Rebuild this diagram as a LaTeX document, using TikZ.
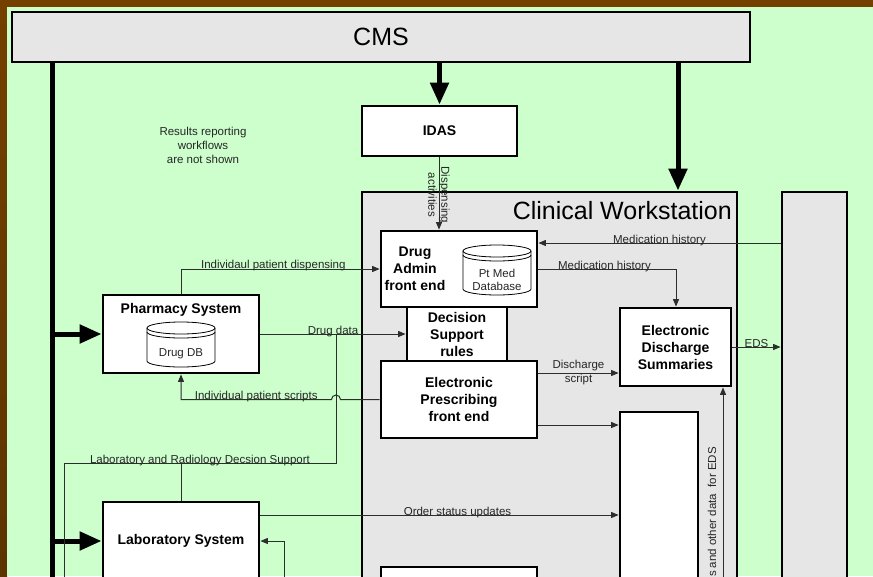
\documentclass[tikz,border=0pt]{standalone}
\usepackage{fontspec}
\setmainfont{Liberation Sans}
\usetikzlibrary{arrows.meta,calc}
\definecolor{brownTop}{RGB}{116,64,0}
\definecolor{brownMid}{RGB}{158,104,0}
\definecolor{brownBot}{RGB}{92,52,0}
\definecolor{bggreen}{RGB}{204,255,204}
\definecolor{panelgrey}{RGB}{230,230,230}
\definecolor{linkgrey}{RGB}{45,45,45}
\begin{document}
\begin{tikzpicture}[x=1pt,y=-1pt,
  box/.style={draw=black, line width=2.8pt, fill=white, inner sep=0pt, align=center,
    font=\bfseries\fontsize{14}{17}\selectfont},
  greybox/.style={box, fill=panelgrey},
  lbl/.style={font=\fontsize{11.5}{13.5}\selectfont, text=black!85, inner sep=0pt, align=center},
  link/.style={draw=linkgrey, line width=1pt},
  arr/.style={link, -{Triangle[length=7.5pt,width=6pt]}},
  bigarrow/.style={draw=black, line width=5pt, -{Triangle[length=22pt,width=18pt]}},
  cyl/.style={draw=black, line width=0.8pt, fill=white}]
\useasboundingbox (0,0) rectangle (873,576);
\clip (0,0) rectangle (873,576);
% background
\fill[brownTop] (0,0) rectangle (873,7);
\shade[top color=brownTop, middle color=brownMid, bottom color=brownBot] (0,0) rectangle (7,576);
\fill[bggreen] (7,7) rectangle (873,576);

% coordinates
\coordinate (medA) at (0,243);
\coordinate (medB) at (0,269);
\coordinate (medX) at (676,0);
\coordinate (disp) at (439,0);
\coordinate (cwArrow) at (678,0);
\coordinate (trunk) at (52,0);
\coordinate (trunkEnd) at (52,600);
\coordinate (hx) at (336,0);
\coordinate (lrY) at (0,463);
\coordinate (lrL) at (64,463);
\coordinate (lrLend) at (64,600);
\coordinate (labIn) at (284,600);
\coordinate (orderY) at (0,515);
\coordinate (epWT) at (0,425);
\coordinate (dsY) at (0,373);
\coordinate (edsIn) at (723,600);

% large panels
\node[greybox, minimum width=738pt, minimum height=50pt] (cms) at (381,37) {};
\node[font=\fontsize{25}{28}\selectfont, anchor=base, inner sep=0pt] (cmst) at (381,45) {CMS};
\node[greybox, minimum width=375pt, minimum height=448pt] (cw) at (549.5,416) {};
\node[font=\fontsize{25}{28}\selectfont, anchor=base east, inner sep=0pt] (cwt) at (732,219) {Clinical Workstation};
\node[greybox, minimum width=65pt, minimum height=448pt] (rb) at (814.5,416) {};

% boxes
\node[box, minimum width=155pt, minimum height=50pt] (idas) at (439.5,131) {IDAS};
\node[box, minimum width=100pt, minimum height=54pt] (dsr) at (457,334) {Decision\\Support\\rules};
\node[box, minimum width=156pt, minimum height=76pt] (da) at (459,269) {};
\node[box, anchor=center, fill=none, draw=none] (dat) at (415,269) {Drug\\Admin\\front end};
\node[box, minimum width=156pt, minimum height=77pt] (ep) at (459,399.5) {Electronic\\Prescribing\\front end};
\node[box, minimum width=111pt, minimum height=78pt] (eds) at (675.5,347) {Electronic\\Discharge\\Summaries};
\node[box, minimum width=78pt, minimum height=228pt] (wt) at (659,526) {};
\node[box, minimum width=156pt, minimum height=53pt] (bot) at (459,593.5) {};
\node[box, minimum width=156pt, minimum height=78pt] (pharm) at (181,334) {};
\node[box, fill=none, draw=none] (pharmt) at (181,310) {Pharmacy System};
\node[box, minimum width=156pt, minimum height=78pt] (lab) at (181,541) {Laboratory System};

% cylinders
\filldraw[cyl] (463,251) -- (463,289) arc[start angle=180,end angle=0,x radius=34,y radius=6]
  -- (531,251) arc[start angle=0,end angle=-180,x radius=34,y radius=6] -- cycle;
\draw[cyl, fill=none] (463,251) arc[start angle=180,end angle=0,x radius=34,y radius=6];
\draw[cyl, fill=none] (463,255) arc[start angle=180,end angle=0,x radius=34,y radius=6];
\node[lbl] (ptmed) at (497,280) {Pt Med\\Database};
\filldraw[cyl] (147,328) -- (147,361) arc[start angle=180,end angle=0,x radius=34,y radius=6]
  -- (215,328) arc[start angle=0,end angle=-180,x radius=34,y radius=6] -- cycle;
\draw[cyl, fill=none] (147,328) arc[start angle=180,end angle=0,x radius=34,y radius=6];
\draw[cyl, fill=none] (147,332) arc[start angle=180,end angle=0,x radius=34,y radius=6];
\node[lbl] (drugdb) at (181,354) {Drug DB};

% thick arrows
\draw[bigarrow] (cms.south -| idas) -- (idas.north);
\draw[bigarrow] (cms.south -| cwArrow) -- (cw.north -| cwArrow);
\draw[line width=5pt] (cms.south -| trunk) -- (trunkEnd);
\draw[bigarrow] (trunk |- pharm.west) -- (pharm.west);
\draw[bigarrow] (trunk |- lab.west) -- (lab.west);

% thin connectors
\draw[arr] (idas.south -| disp) -- (da.north -| disp)
  node[lbl, pos=0.52, rotate=-90, font=\fontsize{11.5}{13}\selectfont] {Dispensing\\activities};
\draw[arr] (rb.west |- medA) -- (da.east |- medA)
  node[lbl, midway, yshift=2.5pt] {Medication history};
\draw[arr] (da.east |- medB) -| (eds.north -| medX)
  node[lbl, pos=0.24, yshift=2.5pt] {Medication history};
\draw[arr] (eds.east) -- (rb.west |- eds.east)
  node[lbl, midway, yshift=3.5pt] {EDS};
\draw[arr] (pharm.east) -- (dsr.west)
  node[lbl, midway, yshift=2.5pt] {Drug data};
\draw[arr] (ep.west) -- ($(hx |- ep.west)+(4.5,0)$)
  arc[start angle=0,end angle=-180,radius=4.5]
  -- node[lbl, yshift=3pt] {Individual patient scripts} (pharm.south |- ep.west) -- (pharm.south);
\draw[arr] (pharm.north) |- (da.west)
  node[lbl, pos=0.75, yshift=3pt, xshift=-7pt] {Individaul patient dispensing};
\draw[link] (lrLend) -- (lrL) -- node[lbl, yshift=2.5pt] {Laboratory and Radiology Decsion Support}
  (hx |- lrY) -- (hx |- pharm.east);
\draw[link] (lab.north) -- (lab.north |- lrY);
\draw[arr] (lab.east |- orderY) -- (wt.west |- orderY)
  node[lbl, midway, yshift=2.5pt, xshift=18pt] {Order status updates};
\draw[arr] (ep.east |- epWT) -- (wt.west |- epWT);
\draw[arr] (ep.east |- dsY) -- (eds.west |- dsY)
  node[lbl, midway, font=\fontsize{11.5}{14}\selectfont] {Discharge\\script};
\draw[arr] (labIn) |- (lab.east);
\draw[arr] (edsIn) -- (eds.south -| edsIn);
\node[lbl, rotate=90, anchor=east] (edsdata) at (712,447) {s and other data\ \ for EDS};

% note
\node[lbl, font=\fontsize{11.5}{14}\selectfont] (note) at (203,145) {Results reporting\\workflows\\are not shown};
\end{tikzpicture}
\end{document}
